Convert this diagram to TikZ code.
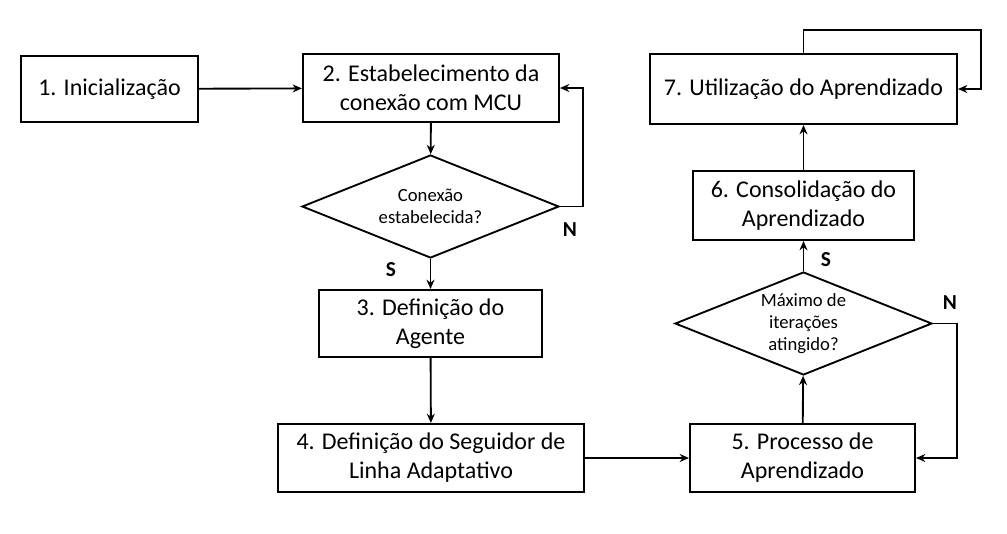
\documentclass[tikz,border=0pt]{standalone}
\usepackage{fontspec}
\setmainfont{Carlito}
\usetikzlibrary{
  arrows.meta,
  shapes.geometric
}
\tikzset{
  block/.style={
    draw,
    line width=1.5pt,
    align=center,
    inner sep=2pt,
    font=\fontsize{18}{21.75}\selectfont
  },
  decision/.style={
    draw,
    diamond,
    shape aspect=2.5,
    line width=1.4pt,
    align=center,
    inner sep=0pt,
    minimum width=192.75pt,
    minimum height=77.25pt,
    font=\fontsize{14}{16.5}\selectfont
  },
  flow/.style={
    ->,
    line width=1.4pt
  },
  answer/.style={
    font=\fontsize{16}{18}\selectfont\bfseries
  }
}

\begin{document}
\begin{tikzpicture}[
      x=0.75pt, y=-0.75pt,
      >={Stealth[length=7pt,width=6pt]}
      ]
      \useasboundingbox (0,0) rectangle (1007,533);

      % process blocks
      \node[block, minimum width=132.75pt, minimum height=49.5pt] (init) at (109.5,89) {1. Inicialização};
      \node[block, minimum width=192pt, minimum height=51pt] (conn) at (431,88) {2. Estabelecimento da\\conexão com MCU};
      \node[block, minimum width=167.25pt, minimum height=50.25pt] (agent) at (430.5,323.5) {3. Definição do\\Agente};
      \node[block, minimum width=229.5pt, minimum height=51pt] (follower) at (431,458) {4. Definição do Seguidor de\\Linha Adaptativo};
      \node[block, minimum width=168.75pt, minimum height=51pt] (learn) at (802.5,458) {5. Processo de\\Aprendizado};
      \node[block, minimum width=165.75pt, minimum height=51.75pt] (consol) at (803.5,205.5) {6. Consolidação do\\Aprendizado};
      \node[block, minimum width=230.25pt, minimum height=52.5pt] (use) at (803.5,89) {7. Utilização do Aprendizado};

      % decisions
      \node[decision] (connok) at (430.5,206.5) {Conexão\\estabelecida?};
      \node[decision] (maxit) at (803.5,323.5) {Máximo de\\iterações\\atingido?};

      % helper points
      \coordinate (loopA) at (583,206.5);
      \coordinate (loopB) at (957,323.5);
      \coordinate (selfA) at (803.5,30);
      \coordinate (selfB) at (981,30);

      % connectors
      \draw[flow] (init) -- (conn);
      \draw[flow] (conn) -- (connok);
      \draw[flow] (connok) -- (agent);
      \draw[flow] (agent) -- (follower);
      \draw[flow] (follower) -- (learn);
      \draw[flow] (learn) -- (maxit);
      \draw[flow] (maxit) -- (consol);
      \draw[flow] (consol) -- (use);
      \draw[flow] (connok.east) -- (loopA) |- (conn.east);
      \draw[flow] (maxit.east) -- (loopB) |- (learn.east);
      \draw[flow] (use.north) -- (selfA) -- (selfB) |- (use.east);

      % answers
      \node[answer] (n1) at (570,230) {N};
      \node[answer] (s1) at (391,270) {S};
      \node[answer] (s2) at (826,260) {S};
      \node[answer] (n2) at (950,303) {N};
\end{tikzpicture}
\end{document}
